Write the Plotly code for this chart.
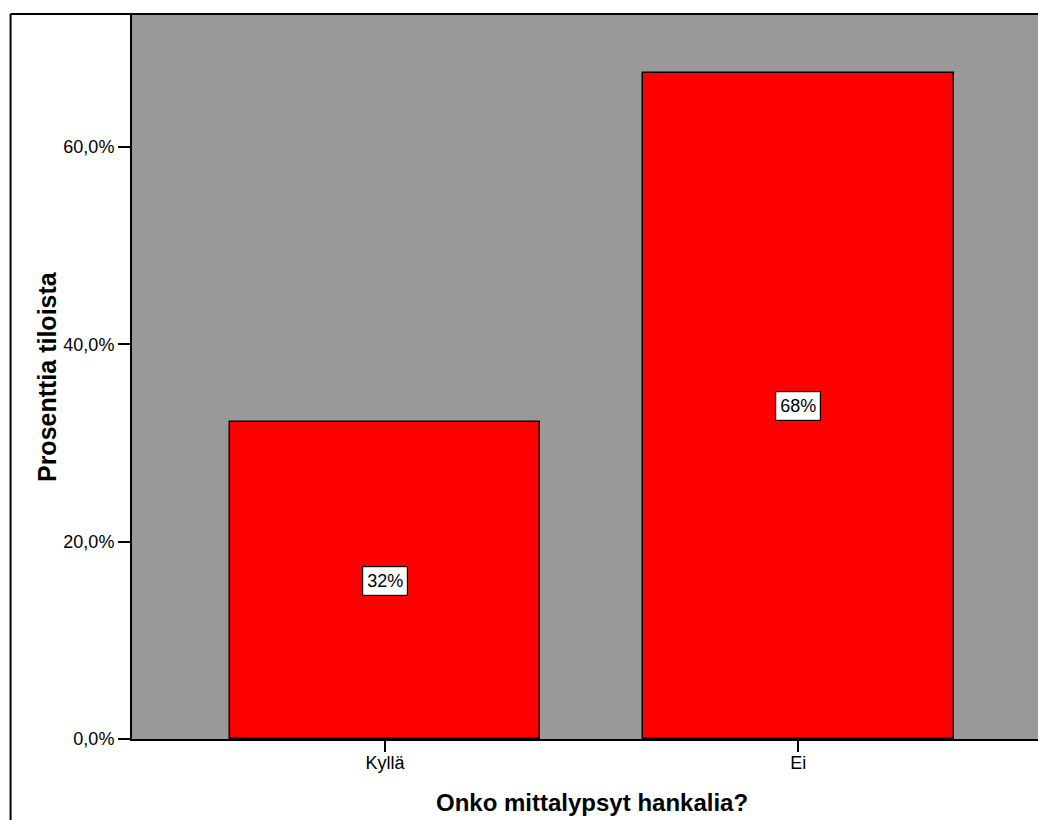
import plotly.graph_objects as go

categories = ["Kyllä", "Ei"]
percents = [32.1, 67.5]
value_labels = ["32%", "68%"]
y_tick_values = [0, 20, 40, 60]
y_tick_labels = ["0,0%", "20,0%", "40,0%", "60,0%"]

FONT = "Liberation Sans, Arial, sans-serif"
W, H = 1038, 820
L, T, B, R = 131.5, 14, 81, 0
pw = W - L - R
ph = H - T - B

fig = go.Figure()
fig.add_trace(go.Bar(
    x=[0, 1], y=percents, width=[0.752] * len(categories),
    marker=dict(color="#FF0000", line=dict(color="black", width=1.5)),
    hoverinfo="skip", showlegend=False,
))

for i, (v, lab) in enumerate(zip(percents, value_labels)):
    fig.add_annotation(x=i, y=v / 2, xref="x", yref="y", text=lab, showarrow=False,
                       font=dict(family=FONT, size=18, color="black"),
                       bgcolor="white", bordercolor="black", borderwidth=1.2, borderpad=4)

# axis titles
fig.add_annotation(x=(46 - L) / pw, y=0.5, xref="paper", yref="paper",
                   text="<b>Prosenttia tiloista</b>", textangle=-90, showarrow=False,
                   xanchor="center", yanchor="middle",
                   font=dict(family=FONT, size=25, color="black"))
fig.add_annotation(x=0.5, y=-(803 - 739) / ph, xref="x", yref="paper",
                   text="<b>Onko mittalypsyt hankalia?</b>", showarrow=False,
                   xanchor="center", yanchor="middle",
                   font=dict(family=FONT, size=24, color="black"))

# outer frame (left and top edges visible)
fig.add_shape(type="line", xref="paper", yref="paper",
              x0=(10 - L) / pw, x1=1.05, y0=1, y1=1, line=dict(color="black", width=2))
fig.add_shape(type="line", xref="paper", yref="paper",
              x0=(10 - L) / pw, x1=(10 - L) / pw, y0=1, y1=-(H - T) / ph,
              line=dict(color="black", width=2))

fig.update_layout(
    width=W, height=H,
    margin=dict(l=L, r=R, t=T, b=B, autoexpand=False),
    paper_bgcolor="white", plot_bgcolor="#999999",
    bargap=0,
    xaxis=dict(range=[-0.612, -0.612 + pw / 413.5], tickvals=[0, 1], ticktext=categories,
               ticks="outside", ticklen=11, tickwidth=2, tickcolor="black",
               ticklabelstandoff=-5,
               showline=True, linecolor="black", linewidth=2, showgrid=False, zeroline=False,
               tickfont=dict(family=FONT, size=18, color="black")),
    yaxis=dict(range=[0, 73.5], tickvals=y_tick_values, ticktext=y_tick_labels,
               ticks="outside", ticklen=12, tickwidth=2, tickcolor="black",
               showline=True, linecolor="black", linewidth=2, showgrid=False, zeroline=False,
               tickfont=dict(family=FONT, size=18, color="black")),
)

fig.write_html("out.html", config={"displayModeBar": False},
               post_script="document.body.style.margin='0';document.body.style.overflow='hidden';")
